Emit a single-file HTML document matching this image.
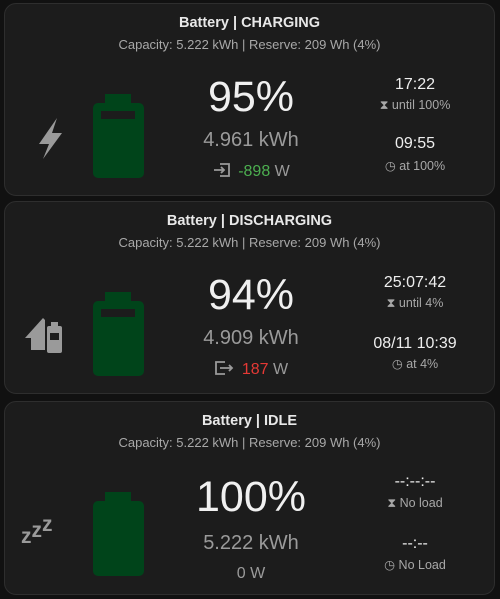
<!DOCTYPE html>
<html><head><meta charset="utf-8">
<style>
body{margin:0;width:500px;height:599px;background:#111;font-family:"Liberation Sans",sans-serif;overflow:hidden;position:relative}
.card{position:absolute;left:4px;width:491px;background:#1c1c1c;border:1px solid #2e2e2e;border-radius:12px;box-sizing:border-box}
.t{position:absolute;white-space:nowrap;text-align:center}
.title{left:0;right:0;top:10px;font-size:14.5px;font-weight:bold;color:#e8e8e8;line-height:18px}
.sub{left:0;right:0;top:32px;font-size:13px;color:#a8a8a8;line-height:17px}
.pct{left:146px;width:200px;top:68px;font-size:43px;color:#f0f0f0;line-height:50px}
.kwh{left:146px;width:200px;top:124px;font-size:20px;color:#9a9a9a;line-height:24px}
.w{left:146px;width:200px;top:158px;font-size:16px;color:#9a9a9a;line-height:20px}
.time{left:330px;width:160px;font-size:16px;color:#eee;line-height:20px}
.st{left:330px;width:160px;font-size:12.5px;color:#a8a8a8;line-height:16px}
.bat{position:absolute;left:88px;top:90px;width:51px;height:84px}
.ic{position:absolute;left:22px;top:110px}
</style></head><body>
<div class="card" style="top:3px;height:193px">
 <div class="t title">Battery | CHARGING</div>
 <div class="t sub">Capacity: 5.222 kWh | Reserve: 209 Wh (4%)</div>
 <svg class="ic" width="40" height="50"><polygon points="30,4 12,30 22,30 16,45 35,19 25,19" fill="#9a9a9a"/></svg>
 <svg class="bat" viewBox="0 0 51 84"><rect x="12" y="0" width="26" height="12" fill="#00441a"/><rect x="0" y="9" width="51" height="75" rx="5" fill="#00441a"/><rect x="8" y="17" width="34" height="8" fill="#1c1c1c"/></svg>
 <div class="t pct">95%</div>
 <div class="t kwh">4.961 kWh</div>
 <div class="t w"><svg width="20" height="16" style="vertical-align:-2px;margin-right:6px"><path d="M8 2h9v12H8M2 8h10M9 5l3 3-3 3" stroke="#9a9a9a" stroke-width="1.8" fill="none"/></svg><span style="color:#4caf50">-898</span> W</div>
 <div class="t time" style="top:71px">17:22</div>
 <div class="t st" style="top:93px">⧗ until 100%</div>
 <div class="t time" style="top:130px">09:55</div>
 <div class="t st" style="top:154px">◷ at 100%</div>
</div>
<div class="card" style="top:201px;height:193px">
 <div class="t title">Battery | DISCHARGING</div>
 <div class="t sub">Capacity: 5.222 kWh | Reserve: 209 Wh (4%)</div>
 <svg class="ic" width="40" height="40" style="top:114px;left:20px"><polygon points="0,22 18,2 20,4 20,34 6,34 6,22" fill="#9a9a9a"/><rect x="26" y="6" width="7" height="5" fill="#9a9a9a"/><rect x="22" y="10" width="15" height="27" rx="2" fill="#9a9a9a"/><rect x="25" y="17" width="9" height="7" fill="#1c1c1c"/></svg>
 <svg class="bat" viewBox="0 0 51 84"><rect x="12" y="0" width="26" height="12" fill="#00441a"/><rect x="0" y="9" width="51" height="75" rx="5" fill="#00441a"/><rect x="8" y="17" width="34" height="8" fill="#1c1c1c"/></svg>
 <div class="t pct">94%</div>
 <div class="t kwh">4.909 kWh</div>
 <div class="t w"><svg width="22" height="16" style="vertical-align:-2px;margin-right:6px"><path d="M11 2H2v12h9M6 8h12M15 5l3 3-3 3" stroke="#9a9a9a" stroke-width="1.8" fill="none"/></svg><span style="color:#e53935">187</span> W</div>
 <div class="t time" style="top:71px">25:07:42</div>
 <div class="t st" style="top:93px">⧗ until 4%</div>
 <div class="t time" style="top:132px">08/11 10:39</div>
 <div class="t st" style="top:154px">◷ at 4%</div>
</div>
<div class="card" style="top:401px;height:194px">
 <div class="t title">Battery | IDLE</div>
 <div class="t sub">Capacity: 5.222 kWh | Reserve: 209 Wh (4%)</div>
 <div class="t" style="left:16px;top:112px;color:#9a9a9a;font-weight:bold;line-height:1"><span style="font-size:21px">z</span><span style="font-size:21px;vertical-align:6px">z</span><span style="font-size:21px;vertical-align:12px">z</span></div>
 <svg class="bat" viewBox="0 0 51 84"><rect x="12" y="0" width="26" height="12" fill="#00441a"/><rect x="0" y="9" width="51" height="75" rx="5" fill="#00441a"/></svg>
 <div class="t pct" style="top:70px">100%</div>
 <div class="t kwh" style="top:129px">5.222 kWh</div>
 <div class="t w" style="top:162px">0 W</div>
 <div class="t time" style="top:70px">--:--:--</div>
 <div class="t st" style="top:93px">⧗ No load</div>
 <div class="t time" style="top:132px">--:--</div>
 <div class="t st" style="top:155px">◷ No Load</div>
</div>
</body></html>
